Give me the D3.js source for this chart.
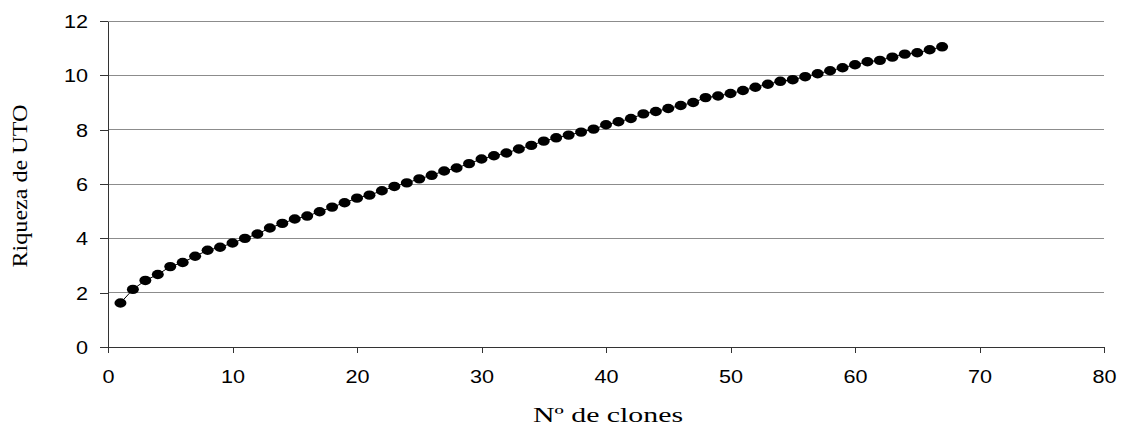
<!DOCTYPE html>
<html>
<head>
<meta charset="utf-8">
<script src="https://cdn.jsdelivr.net/npm/d3@7"></script>
<style>
body { margin: 0; background: #fff; }
.tick text { font-family: "Liberation Sans", Arial, sans-serif; font-size: 18px; fill: #000; }
.title { font-family: "Liberation Serif", "Times New Roman", serif; font-size: 22px; fill: #000; }
</style>
</head>
<body>
<div id="chart"></div>
<script>
// clones 1..67
var clones = d3.range(1, 68);
var riqueza = [1.62, 2.12, 2.45, 2.67, 2.96, 3.11, 3.34, 3.56, 3.67, 3.83,
               4.00, 4.16, 4.38, 4.55, 4.71, 4.82, 4.98, 5.15, 5.31, 5.48,
               5.59, 5.75, 5.91, 6.04, 6.19, 6.32, 6.48, 6.59, 6.75, 6.92,
               7.04, 7.14, 7.29, 7.42, 7.58, 7.70, 7.80, 7.91, 8.02, 8.18,
               8.29, 8.41, 8.58, 8.67, 8.78, 8.89, 9.00, 9.18, 9.24, 9.33,
               9.44, 9.56, 9.67, 9.78, 9.84, 9.95, 10.06, 10.17, 10.28, 10.39,
               10.50, 10.55, 10.67, 10.78, 10.83, 10.94, 11.05];
var xTicks = [0, 10, 20, 30, 40, 50, 60, 70, 80];
var yTicks = [0, 2, 4, 6, 8, 10, 12];

var W = 1126, H = 427;
var margin = {top: 21, right: 22, bottom: 80, left: 108};
var width = W - margin.left - margin.right;
var height = H - margin.top - margin.bottom;

var x = d3.scaleLinear().domain([0, 80]).range([0, width]);
var y = d3.scaleLinear().domain([0, 12]).range([height, 0]);

var svg = d3.select("#chart").append("svg")
    .attr("width", W).attr("height", H);
var g = svg.append("g").attr("transform", "translate(" + margin.left + "," + margin.top + ")");

// the original picture is stretched sideways, so widen the text a bit
function widen(sel, k) {
    sel.each(function(){
        var w = this.getComputedTextLength();
        d3.select(this).attr("textLength", w * k).attr("lengthAdjust", "spacingAndGlyphs");
    });
}

// gridlines
g.append("g").selectAll("line").data(yTicks.slice(1)).enter().append("line")
    .attr("x1", 0).attr("x2", width)
    .attr("y1", function(d){ return y(d); }).attr("y2", function(d){ return y(d); })
    .attr("stroke", "#8c8c8c").attr("stroke-width", 1).attr("shape-rendering", "crispEdges");

var xAxis = g.append("g").attr("transform", "translate(0," + height + ")")
    .call(d3.axisBottom(x).tickValues(xTicks).tickSize(6).tickSizeOuter(0));
xAxis.selectAll(".tick text").attr("y", 36).attr("dy", 0);

var yAxis = g.append("g")
    .call(d3.axisLeft(y).tickValues(yTicks).tickSize(8).tickSizeOuter(0));
yAxis.selectAll(".tick text").attr("x", -20).attr("dy", "0.36em");

[xAxis, yAxis].forEach(function(a){
    a.select(".domain").attr("stroke", "#333").attr("shape-rendering", "crispEdges");
    a.selectAll(".tick line").attr("stroke", "#333").attr("shape-rendering", "crispEdges");
    widen(a.selectAll(".tick text"), 1.2);
});

var data = clones.map(function(c, i){ return {c: c, v: riqueza[i]}; });
var line = d3.line().x(function(d){ return x(d.c); }).y(function(d){ return y(d.v); });
g.append("path").attr("d", line(data)).attr("fill", "none").attr("stroke", "#000").attr("stroke-width", 1);

g.append("g").selectAll("ellipse").data(data).enter().append("ellipse")
    .attr("cx", function(d){ return x(d.c); })
    .attr("cy", function(d){ return y(d.v); })
    .attr("rx", 6).attr("ry", 4.7).attr("fill", "#000");

svg.append("text").attr("class", "title")
    .attr("x", margin.left + width / 2 + 2).attr("y", 422)
    .attr("text-anchor", "middle")
    .attr("textLength", 150).attr("lengthAdjust", "spacingAndGlyphs")
    .text("Nº de clones");
svg.append("text").attr("class", "title")
    .attr("transform", "translate(27,186) rotate(-90)")
    .attr("text-anchor", "middle")
    .attr("textLength", 163).attr("lengthAdjust", "spacingAndGlyphs")
    .text("Riqueza de UTO");
</script>
</body>
</html>
